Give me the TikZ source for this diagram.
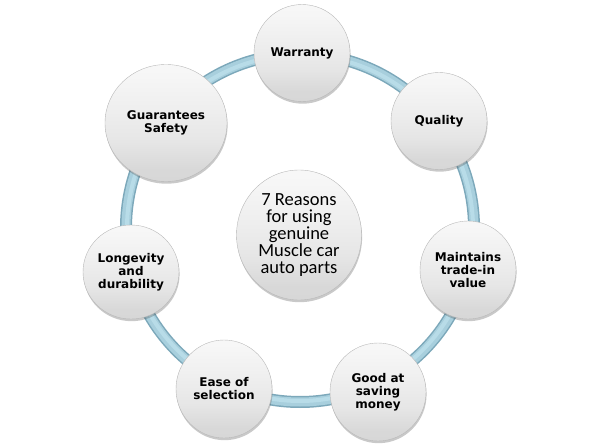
\documentclass[tikz,border=0pt]{standalone}
\usepackage{fontspec}
\setmainfont{DejaVu Sans}
\newfontfamily\carl{Carlito}
\usetikzlibrary{shapes.geometric,shadows}
\definecolor{ringedge}{RGB}{124,168,186}
\definecolor{ringfill}{RGB}{168,207,221}
\definecolor{ringhi}{RGB}{184,220,232}
\definecolor{b0}{RGB}{226,226,226}
\definecolor{b1}{RGB}{212,212,212}
\definecolor{b2}{RGB}{216,216,216}
\definecolor{b3}{RGB}{230,230,230}
\definecolor{b4}{RGB}{238,238,238}
\definecolor{b5}{RGB}{246,246,246}
\definecolor{b6}{RGB}{255,255,255}
\pgfdeclareverticalshading{ballsh}{100bp}{color(0bp)=(b0); color(8bp)=(b1); color(30bp)=(b2); color(42bp)=(b3); color(55bp)=(b4); color(70bp)=(b5); color(100bp)=(b6)}
\tikzset{
  ball/.style={ellipse, draw=black!28, line width=0.4pt, shading=ballsh,
    drop shadow={shadow xshift=0.6pt, shadow yshift=-2.2pt, opacity=0.3, fill=black!70},
    inner sep=0pt, align=center, font=\bfseries\fontsize{12}{13}\selectfont},
  small/.style={ball, minimum width=96pt, minimum height=97pt},
}
\begin{document}
\begin{tikzpicture}[x=1pt,y=-1pt]
\useasboundingbox (0,0) rectangle (606,447);
\coordinate (rc) at (300,228);
\draw[line width=12pt, ringedge] (rc) circle[radius=174];
\draw[line width=9pt, ringfill] (rc) circle[radius=174];
\draw[line width=4pt, ringhi] (rc) circle[radius=173];
\node[small] (w) at (302,53) {Warranty};
\node[small] (q) at (439,121) {Quality};
\node[small, minimum height=98pt] (m) at (468,270) {Maintains\\trade-in\\value};
\node[small, minimum height=98pt] (g) at (378,392) {Good at\\saving\\money};
\node[small, minimum height=98pt] (e) at (224,389) {Ease of\\selection};
\node[small, minimum height=94pt] (l) at (131,272) {Longevity\\and\\durability};
\node[ball, minimum width=122pt, minimum height=117pt] (s) at (166,123) {Guarantees\\Safety};
\node[ball, minimum width=125pt, minimum height=130pt, font=\carl\fontsize{18.5}{17.2}\selectfont] (c) at (299,235) {7 Reasons\\for using\\genuine\\Muscle car\\auto parts};
\end{tikzpicture}
\end{document}
